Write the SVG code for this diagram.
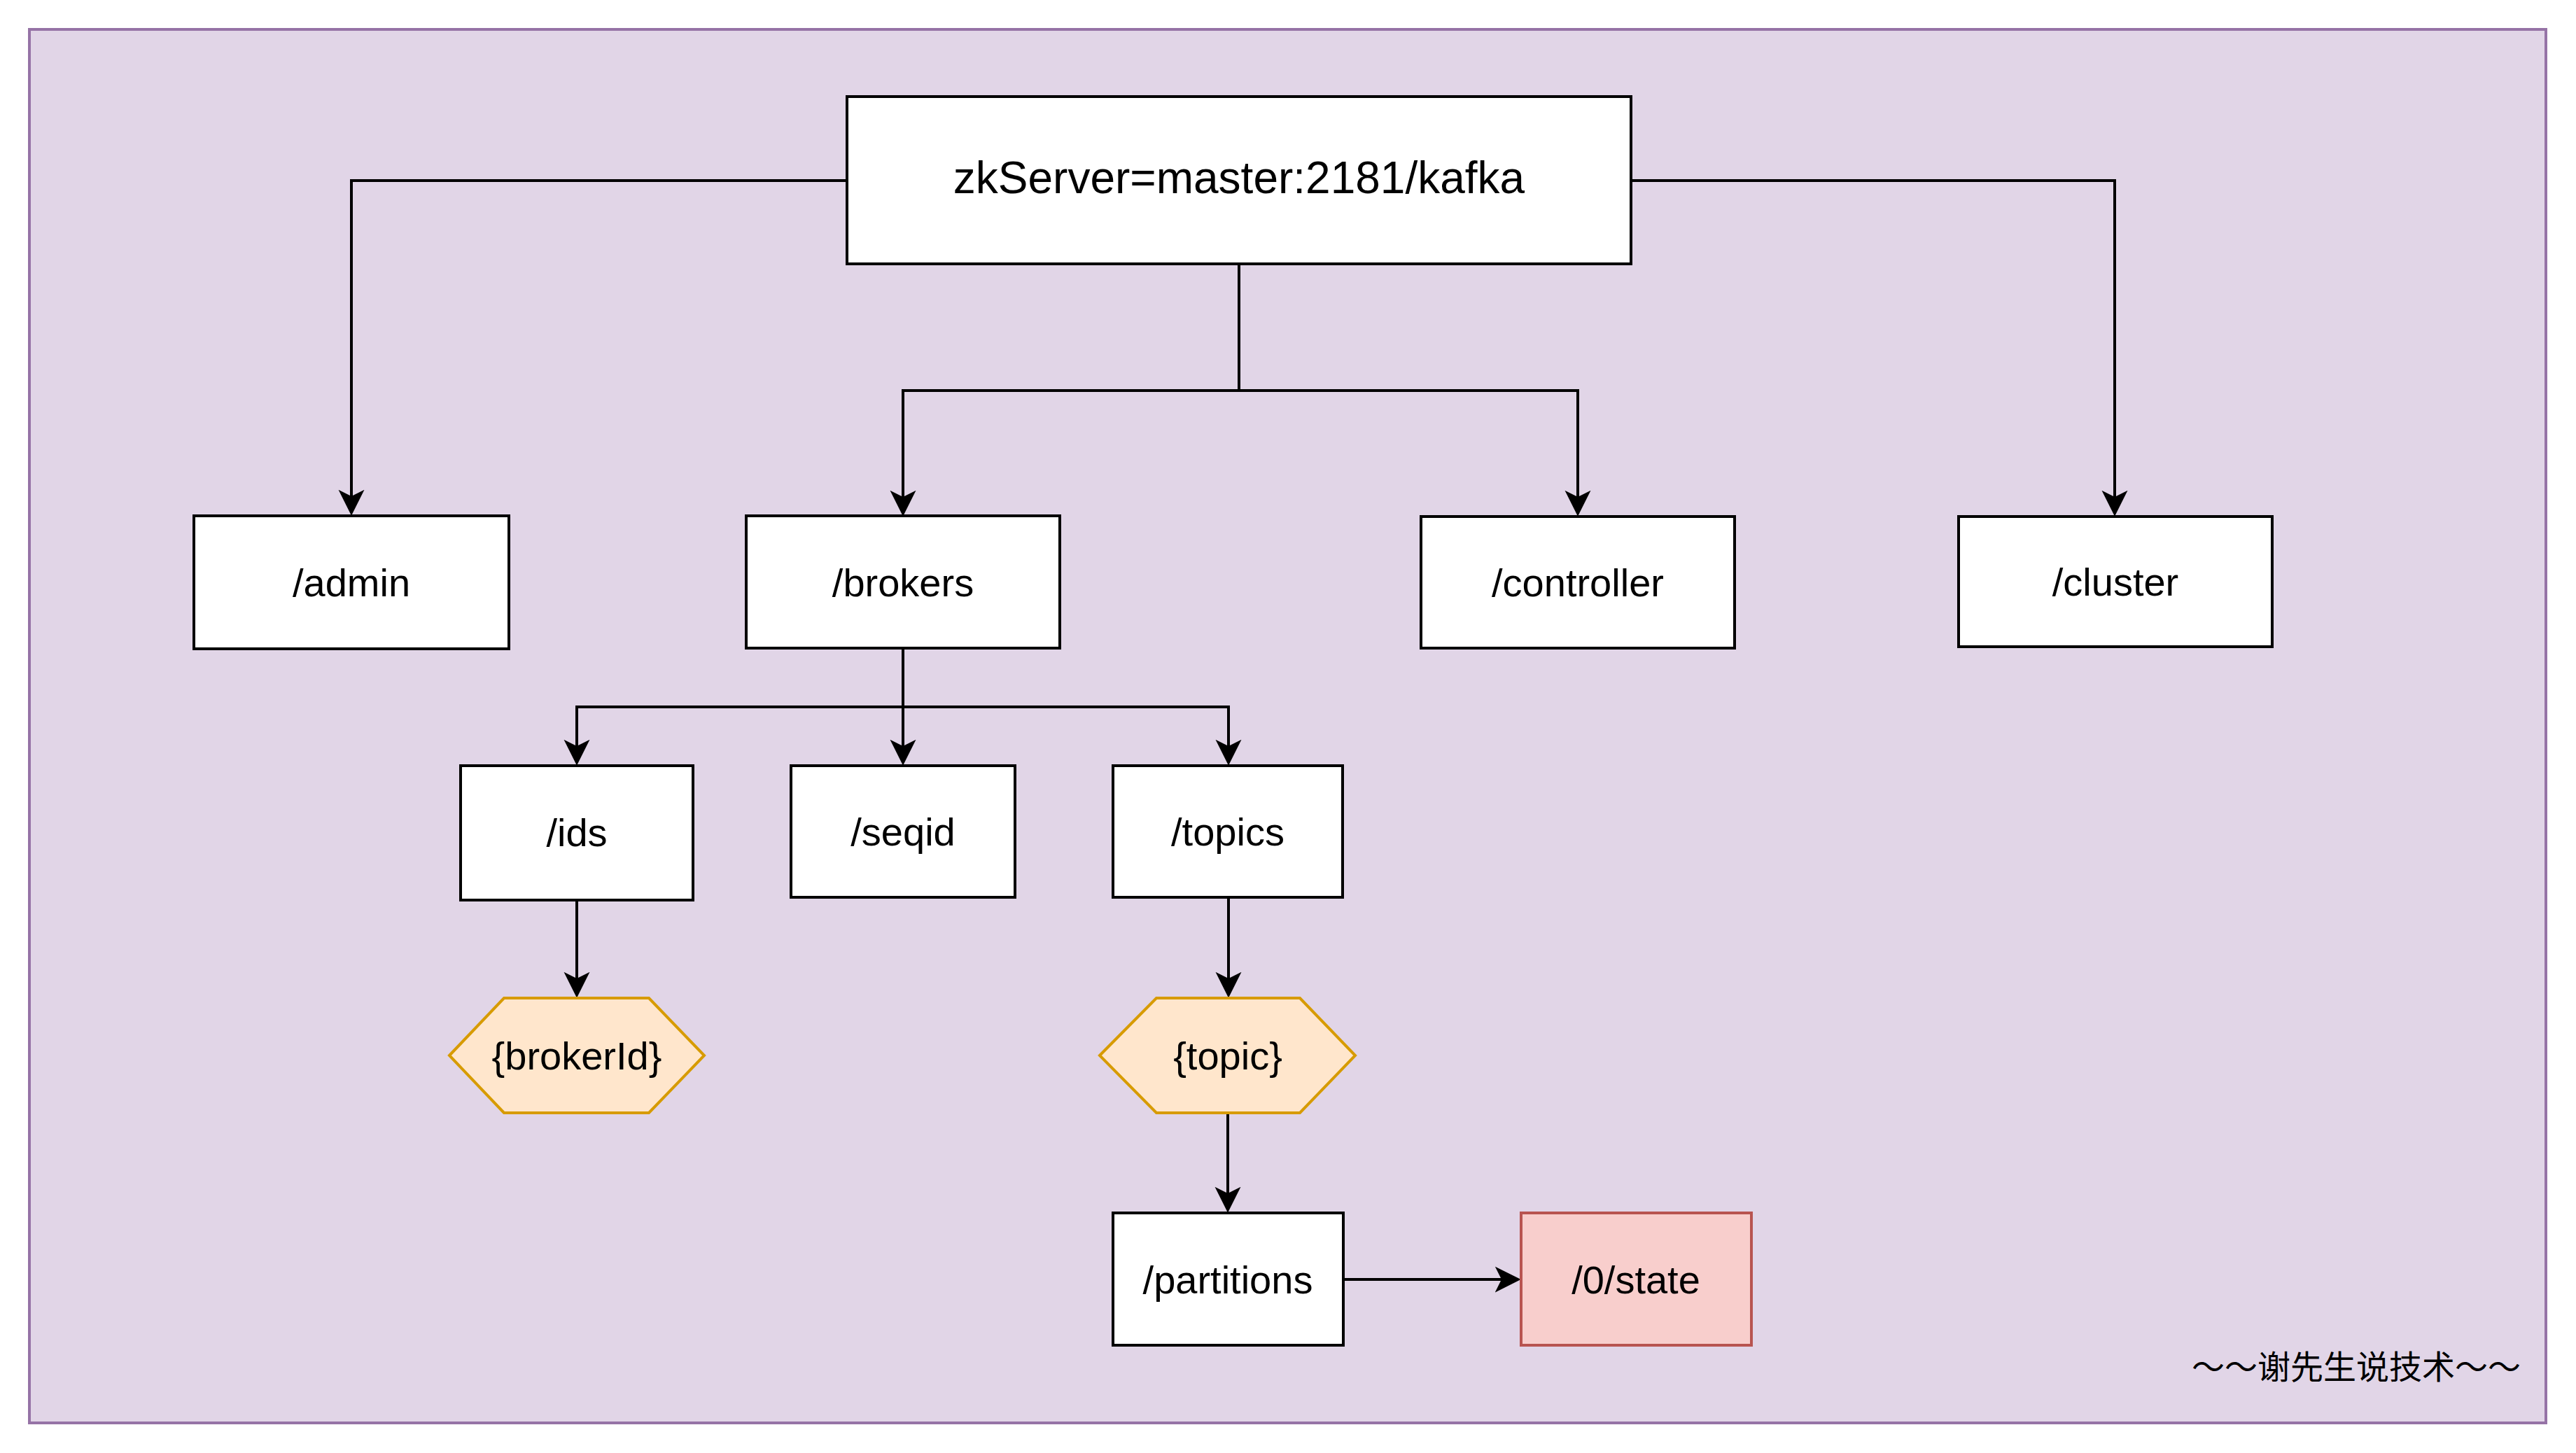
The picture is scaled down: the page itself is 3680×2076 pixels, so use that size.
<svg xmlns="http://www.w3.org/2000/svg" width="3680" height="2076" viewBox="0 0 3680 2076">
  <style>
    .box { fill: #ffffff; stroke: #000000; stroke-width: 4; }
    .hex { fill: #ffe6cc; stroke: #d79b00; stroke-width: 4; }
    .state { fill: #f8cecc; stroke: #b85450; stroke-width: 4; }
    .lbl { font-family: "Liberation Sans", Arial, Helvetica, sans-serif; font-size: 56px; fill: #000000; text-anchor: middle; }
    .title { font-size: 64px; }
    .edge { fill: none; stroke: #000000; stroke-width: 4; stroke-linejoin: miter; marker-end: url(#arrow); }
    .plain { fill: none; stroke: #000000; stroke-width: 4; }
  </style>
  <defs>
    <marker id="arrow" markerUnits="userSpaceOnUse" viewBox="0 -20 40 40" markerWidth="40" markerHeight="40" refX="9.25" refY="0" orient="auto">
      <path d="M37,0 L0,-18.5 L9.25,0 L0,18.5 Z" fill="#000000"/>
    </marker>
  </defs>

  <rect id="background" x="42" y="42" width="3595" height="1991" fill="#e1d5e7" stroke="#9673a6" stroke-width="4"/>

  <g id="connectors">
    <path class="edge" d="M1210,258 L502,258 L502,709"/>
    <path class="edge" d="M2330,258 L3021,258 L3021,710"/>
    <path class="plain" d="M1770,377 L1770,558"/>
    <path class="edge" d="M1770,558 L1290,558 L1290,710"/>
    <path class="edge" d="M1770,558 L2254,558 L2254,710"/>
    <path class="plain" d="M1290,926 L1290,1010"/>
    <path class="edge" d="M1290,1010 L824,1010 L824,1066"/>
    <path class="edge" d="M1290,1010 L1290,1066"/>
    <path class="edge" d="M1290,1010 L1755,1010 L1755,1066"/>
    <path class="edge" d="M824,1286 L824,1398"/>
    <path class="edge" d="M1755,1282 L1755,1398"/>
    <path class="edge" d="M1754,1590 L1754,1705"/>
    <path class="edge" d="M1919,1828 L2145,1828"/>
  </g>

  <g id="zkServer">
    <rect class="box" x="1210" y="138" width="1120" height="239"/>
    <text class="lbl title" x="1770" y="276">zkServer=master:2181/kafka</text>
  </g>
  <g id="admin">
    <rect class="box" x="277" y="737" width="450" height="190"/>
    <text class="lbl" x="502" y="852">/admin</text>
  </g>
  <g id="brokers">
    <rect class="box" x="1066" y="737" width="448" height="189"/>
    <text class="lbl" x="1290" y="852">/brokers</text>
  </g>
  <g id="controller">
    <rect class="box" x="2030" y="738" width="448" height="188"/>
    <text class="lbl" x="2254" y="852">/controller</text>
  </g>
  <g id="cluster">
    <rect class="box" x="2798" y="738" width="448" height="186"/>
    <text class="lbl" x="3022" y="851">/cluster</text>
  </g>
  <g id="ids">
    <rect class="box" x="658" y="1094" width="332" height="192"/>
    <text class="lbl" x="824" y="1209">/ids</text>
  </g>
  <g id="seqid">
    <rect class="box" x="1130" y="1094" width="320" height="188"/>
    <text class="lbl" x="1290" y="1208">/seqid</text>
  </g>
  <g id="topics">
    <rect class="box" x="1590" y="1094" width="328" height="188"/>
    <text class="lbl" x="1754" y="1208">/topics</text>
  </g>
  <g id="brokerId">
    <polygon class="hex" points="642,1508 720,1426 927,1426 1006,1508 927,1590 720,1590"/>
    <text class="lbl" x="824" y="1528">{brokerId}</text>
  </g>
  <g id="topic">
    <polygon class="hex" points="1571,1508 1652,1426 1857,1426 1936,1508 1857,1590 1652,1590"/>
    <text class="lbl" x="1754" y="1528">{topic}</text>
  </g>
  <g id="partitions">
    <rect class="box" x="1590" y="1733" width="329" height="189"/>
    <text class="lbl" x="1754" y="1848">/partitions</text>
  </g>
  <g id="state">
    <rect class="state" x="2173" y="1733" width="329" height="189"/>
    <text class="lbl" x="2337" y="1848">/0/state</text>
  </g>

  <text id="watermark" x="3366" y="1970" font-family="'Noto Sans CJK SC', 'Noto Sans', sans-serif" font-size="47" text-anchor="middle" fill="#000000">～～谢先生说技术～～</text>
</svg>
